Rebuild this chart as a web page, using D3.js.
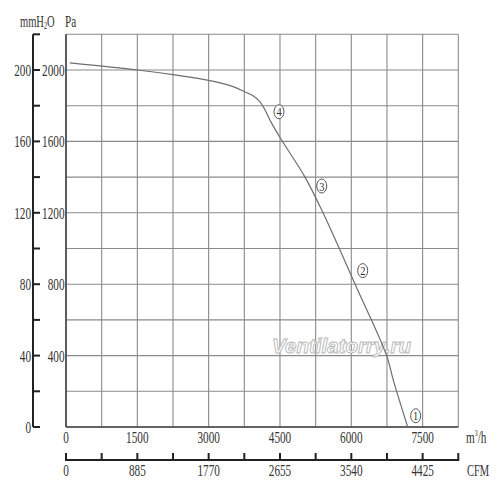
<!DOCTYPE html>
<html><head><meta charset="utf-8">
<script src="https://cdn.jsdelivr.net/npm/d3@7"></script>
<style>
html,body{margin:0;padding:0;background:#fff;}
svg{display:block;}
</style></head>
<body>
<script>
// ---- data ----
const flowM3h = [80, 1500, 2250, 3000, 3500, 3760, 3940, 4080, 4185, 4326, 4540, 5026, 5405, 6080, 6744, 6883, 7186];
const pressurePa = [2040, 2000, 1974, 1942, 1908, 1878, 1854, 1822, 1776, 1701, 1605, 1400, 1200, 800, 400, 263, 0];
const flowLabels = [0, 1500, 3000, 4500, 6000, 7500];
const cfmLabels = ["0", "885", "1770", "2655", "3540", "4425"];
const paLabels = [400, 800, 1200, 1600, 2000];
const mmLabels = ["0", "40", "80", "120", "160", "200"];
const markerNames = ["1", "2", "3", "4"];
const markerFlow = [7354, 6240, 5378, 4479];
const markerPa = [63, 876, 1350, 1766];

const W = 500, H = 494;
const svg = d3.select("body").append("svg").attr("width", W).attr("height", H);

const x = d3.scaleLinear().domain([0, 8250]).range([66, 458.3]);
const y = d3.scaleLinear().domain([0, 2200]).range([427, 34.3]);

const txtColor = "#333";
const FONT = "'Liberation Serif', 'DejaVu Serif', serif";
function ctext(g, str, tx, ty, anchor, size, sx) {
  return g.append("text")
    .attr("transform", `translate(${tx},${ty}) scale(${sx || 0.66},1)`)
    .attr("text-anchor", anchor || "middle")
    .attr("font-family", FONT)
    .attr("font-size", size || 17)
    .attr("fill", txtColor)
    .text(str);
}

// grid
const grid = svg.append("g");
const xGrid = d3.range(0, 8251, 750);
const yGrid = d3.range(0, 2201, 200);
grid.selectAll("line.v").data(xGrid).join("line")
  .attr("x1", d => x(d)).attr("x2", d => x(d))
  .attr("y1", y(2200)).attr("y2", y(0))
  .attr("stroke", "#8a8a8a").attr("stroke-width", 1.1);
grid.selectAll("line.h").data(yGrid).join("line")
  .attr("x1", x(0)).attr("x2", x(8250))
  .attr("y1", d => y(d)).attr("y2", d => y(d))
  .attr("stroke", "#8a8a8a").attr("stroke-width", 1.1);
// darker left & bottom border
svg.append("line").attr("x1", x(0)).attr("x2", x(0)).attr("y1", y(2200)).attr("y2", y(0))
  .attr("stroke", "#444").attr("stroke-width", 1.6);
svg.append("line").attr("x1", x(0)).attr("x2", x(8250)).attr("y1", y(0)).attr("y2", y(0))
  .attr("stroke", "#444").attr("stroke-width", 1.6);

// watermark
svg.append("text")
  .attr("x", 272).attr("y", 353)
  .attr("font-family", "'Liberation Sans', Arial, sans-serif")
  .attr("font-weight", "bold").attr("font-style", "italic")
  .attr("font-size", 20)
  .attr("textLength", 139).attr("lengthAdjust", "spacingAndGlyphs")
  .attr("fill", "#fff").attr("stroke", "#b8b8b8").attr("stroke-width", 0.9)
  .text("Ventilatorry.ru");

// curve
const pts = flowM3h.map((f, i) => [f, pressurePa[i]]);
svg.append("path")
  .attr("d", d3.line().x(d => x(d[0])).y(d => y(d[1])).curve(d3.curveCatmullRom.alpha(0.5))(pts))
  .attr("fill", "none").attr("stroke", "#6e6e6e").attr("stroke-width", 1.2);

// markers
markerNames.forEach((m, i) => {
  const cx = x(markerFlow[i]), cy = y(markerPa[i]);
  svg.append("ellipse").attr("cx", cx).attr("cy", cy).attr("rx", 5).attr("ry", 7)
    .attr("fill", "#fff").attr("stroke", "#555").attr("stroke-width", 1);
  ctext(svg, m, cx, cy + 4.5, "middle", 13, 0.8);
});

// left axis
const la = svg.append("g");
la.append("line").attr("x1", 33).attr("x2", 33).attr("y1", y(2200)).attr("y2", y(0))
  .attr("stroke", "#222").attr("stroke-width", 2);
la.selectAll("line.t").data(yGrid).join("line")
  .attr("x1", 33).attr("x2", 40).attr("y1", d => y(d)).attr("y2", d => y(d))
  .attr("stroke", "#222").attr("stroke-width", 2);
mmLabels.forEach((s, i) => ctext(la, s, 31, y(i * 400) + 6, "end"));
paLabels.forEach(v => ctext(la, String(v), 64.5, y(v) + 6, "end"));

// header
const hdr = svg.append("text")
  .attr("transform", "translate(20,27) scale(0.62,1)")
  .attr("font-family", FONT).attr("font-size", 17).attr("fill", txtColor);
hdr.append("tspan").text("mmH");
hdr.append("tspan").attr("font-size", 10).attr("dy", 2).text("2");
hdr.append("tspan").attr("dy", -2).text("O");
ctext(svg, "Pa", 65, 27, "start", 17, 0.66);

// bottom x labels
flowLabels.forEach(v => ctext(svg, String(v), x(v), 443, "middle"));
const mh = svg.append("text")
  .attr("transform", "translate(466,443) scale(0.66,1)")
  .attr("font-family", FONT).attr("font-size", 17).attr("fill", txtColor);
mh.append("tspan").text("m");
mh.append("tspan").attr("font-size", 9).attr("dy", -7).text("3");
mh.append("tspan").attr("dy", 7).text("/h");

// CFM axis
const cfm = svg.append("g");
cfm.append("line").attr("x1", x(0)).attr("x2", x(8250)).attr("y1", 460).attr("y2", 460)
  .attr("stroke", "#222").attr("stroke-width", 2);
cfm.selectAll("line.t").data(xGrid).join("line")
  .attr("x1", d => x(d)).attr("x2", d => x(d)).attr("y1", 453).attr("y2", 461)
  .attr("stroke", "#222").attr("stroke-width", 2);
cfmLabels.forEach((s, i) => ctext(cfm, s, x(i * 1500), 476, "middle"));
ctext(cfm, "CFM", 467, 476, "start", 17, 0.62);
</script>
</body></html>
